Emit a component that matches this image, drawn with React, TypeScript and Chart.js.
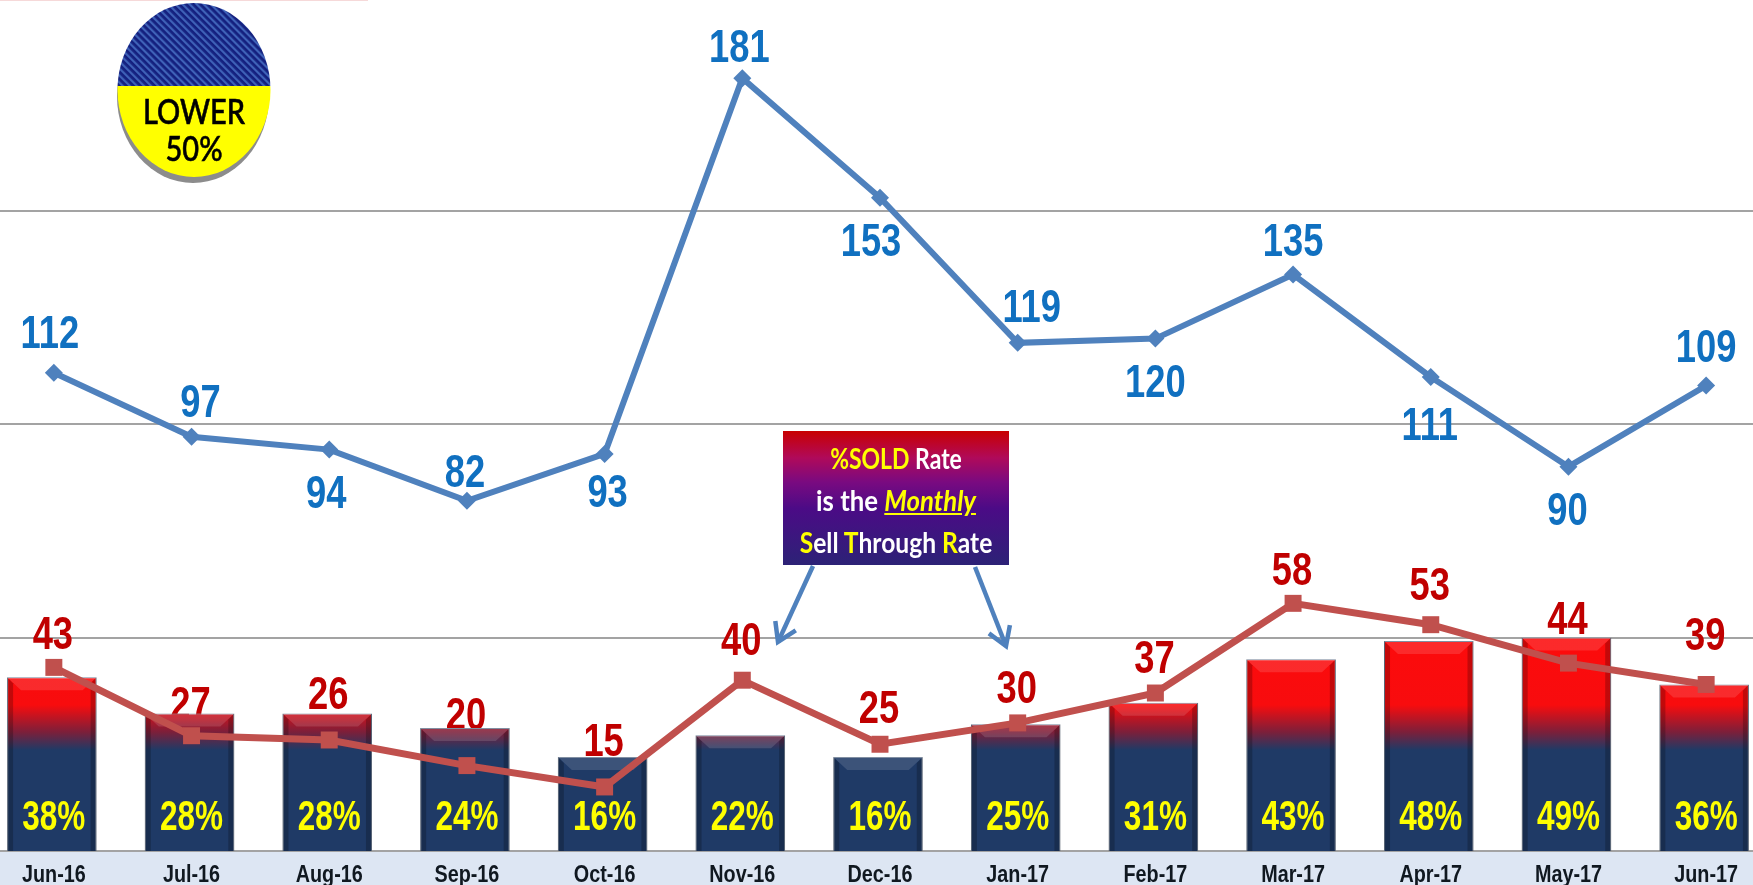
import React, { useEffect, useRef } from "react";
import { Chart, registerables } from "chart.js";

Chart.register(...registerables);

const months = ["Jun-16","Jul-16","Aug-16","Sep-16","Oct-16","Nov-16","Dec-16","Jan-17","Feb-17","Mar-17","Apr-17","May-17","Jun-17"];
const blueSeries = [112,97,94,82,93,181,153,119,120,135,111,90,109];
const redSeries = [43,27,26,20,15,40,25,30,37,58,53,44,39];
const soldRate = [38,28,28,24,16,22,16,25,31,43,48,49,36];

// label placement relative to each point, in pixels
const blueLabelDx = [-4,9,-3,-2,3,-3,-9,14,0,0,-1,-1,0];
const blueLabelDy = [-37,-32,46,-27,40,-29,46,-34,46,-31,50,46,-36];
const redLabelDy = [-31,-29,-44,-48,-44,-38,-34,-33,-33,-31,-37,-42,-47];

const SANS = '"Liberation Sans", Arial, sans-serif';

function drawText(
  c: CanvasRenderingContext2D,
  text: string,
  x: number,
  y: number,
  font: string,
  color: string,
  squeeze: number
) {
  c.save();
  c.translate(x, y);
  c.scale(squeeze, 1);
  c.font = font;
  c.fillStyle = color;
  c.textAlign = "center";
  c.textBaseline = "middle";
  c.fillText(text, 0, 0);
  c.restore();
}

const bandPlugin = {
  id: "band",
  beforeDraw(chart: any) {
    const { ctx, chartArea, width, height } = chart;
    ctx.save();
    ctx.fillStyle = "#ffffff";
    ctx.fillRect(0, 0, width, height);
    ctx.fillStyle = "#dde6f3";
    ctx.fillRect(0, chartArea.bottom, width, height - chartArea.bottom);
    ctx.restore();
  },
};

const BAR_SHIFT = -2;

const labelPlugin = {
  id: "labels",
  beforeDatasetsDraw(chart: any) {
    // red values sit behind the bars
    const { ctx } = chart;
    chart.getDatasetMeta(1).data.forEach((p: any, i: number) => {
      drawText(ctx, String(redSeries[i]), p.x - 1, p.y + redLabelDy[i], `bold 46px ${SANS}`, "#c00000", 0.79);
    });
  },
  beforeDatasetDraw(chart: any, args: any) {
    if (args.index === 2) {
      chart.ctx.save();
      chart.ctx.translate(BAR_SHIFT, 0);
    }
  },
  afterDatasetDraw(chart: any, args: any) {
    if (args.index !== 2) return;
    const { ctx } = chart;
    args.meta.data.forEach((b: any) => {
      const l = b.x - b.width / 2;
      const r = b.x + b.width / 2;
      const t = b.y;
      const bot = b.base;
      const s = 6;
      ctx.fillStyle = "rgba(255,255,255,0.13)";
      ctx.beginPath();
      ctx.moveTo(l, t);
      ctx.lineTo(r, t);
      ctx.lineTo(r - 14, t + 13);
      ctx.lineTo(l + 14, t + 13);
      ctx.closePath();
      ctx.fill();
      ctx.fillStyle = "rgba(0,0,0,0.22)";
      ctx.beginPath();
      ctx.moveTo(l, t);
      ctx.lineTo(l + s, t + 6);
      ctx.lineTo(l + s, bot);
      ctx.lineTo(l, bot);
      ctx.closePath();
      ctx.fill();
      ctx.beginPath();
      ctx.moveTo(r, t);
      ctx.lineTo(r - s, t + 6);
      ctx.lineTo(r - s, bot);
      ctx.lineTo(r, bot);
      ctx.closePath();
      ctx.fill();
    });
    ctx.restore();
  },
  afterDatasetsDraw(chart: any) {
    const { ctx, chartArea } = chart;
    const blue = chart.getDatasetMeta(0).data;
    blue.forEach((p: any, i: number) => {
      drawText(ctx, String(blueSeries[i]), p.x + blueLabelDx[i], p.y + blueLabelDy[i], `bold 46px ${SANS}`, "#1070c0", 0.79);
    });
    soldRate.forEach((v, i) => {
      drawText(ctx, `${v}%`, blue[i].x, chartArea.bottom - 33, `bold 42px ${SANS}`, "#ffff00", 0.75);
    });
  },
  afterDraw(chart: any) {
    const { ctx, chartArea, height } = chart;
    const x = chart.scales.x;
    x.ticks.forEach((_: any, i: number) => {
      const label = x.getLabelForValue(i);
      drawText(ctx, label, x.getPixelForTick(i), (chartArea.bottom + height) / 2 + 8, `bold 23px ${SANS}`, "#101820", 0.86);
    });
  },
};

export default function App() {
  const ref = useRef<HTMLCanvasElement>(null);
  useEffect(() => {
    const canvas = ref.current!;
    const c = canvas.getContext("2d")!;
    const grad = c.createLinearGradient(0, 603, 0, 753);
    grad.addColorStop(0, "#ff0a0a");
    grad.addColorStop(0.7, "#f80c0e");
    grad.addColorStop(0.88, "#7c1f3a");
    grad.addColorStop(1, "#1f3a66");
    const chart = new Chart(canvas, {
      type: "bar",
      data: {
        labels: months,
        datasets: [
          {
            type: "line",
            data: blueSeries,
            yAxisID: "y",
            order: 1,
            borderColor: "#4f81bd",
            backgroundColor: "#4f81bd",
            borderWidth: 6,
            pointStyle: "rectRot",
            pointRadius: 9,
            pointBorderWidth: 0,
            tension: 0,
          },
          {
            type: "line",
            data: redSeries,
            yAxisID: "y",
            order: 0,
            borderColor: "#c0504d",
            backgroundColor: "#c0504d",
            borderWidth: 7,
            pointStyle: "rect",
            pointRadius: 12,
            pointBorderWidth: 0,
            tension: 0,
          },
          {
            type: "bar",
            data: soldRate,
            yAxisID: "y1",
            order: 2,
            base: -10,
            backgroundColor: grad,
            borderColor: "#6f7f95",
            borderWidth: 1,
            barPercentage: 0.65,
            categoryPercentage: 1,
          },
        ] as any,
      },
      options: {
        responsive: false,
        animation: false,
        layout: { padding: 0, autoPadding: false },
        plugins: { legend: { display: false }, tooltip: { enabled: false } },
        scales: {
          x: {
            grid: { display: false },
            border: { display: false },
            afterFit: (s: any) => {
              s.height = 34;
            },
            ticks: { display: false, autoSkip: false },
          },
          y: {
            min: 0,
            max: 200,
            border: { display: false },
            grid: { color: "#a3a3a3", lineWidth: 2, drawTicks: false },
            ticks: { display: false, stepSize: 50 },
            afterFit: (s: any) => {
              s.width = 0;
            },
          },
          y1: {
            display: false,
            min: -10,
            max: 226,
          },
        },
      } as any,
      plugins: [bandPlugin, labelPlugin],
    });
    return () => chart.destroy();
  }, []);

  const noteLine = (squeeze: number): React.CSSProperties => ({
    height: 42,
    lineHeight: "42px",
    whiteSpace: "nowrap",
    transform: `scaleX(${squeeze})`,
  });
  const gold: React.CSSProperties = { color: "#ffff00" };
  return (
    <div style={{ position: "fixed", left: 0, top: 0, width: 1753, height: 885, overflow: "hidden", background: "#fff" }}>
      <canvas ref={ref} width={1790} height={888} style={{ position: "absolute", left: -15, top: -3, display: "block" }} />
      <div style={{ position: "absolute", left: 0, top: 0, width: 368, height: 1, background: "#f6d9d9" }} />

      <svg width={1753} height={885} style={{ position: "absolute", left: 0, top: 0 }}>
        <defs>
          <pattern id="stripes" width="5" height="5" patternUnits="userSpaceOnUse" patternTransform="rotate(-45)">
            <rect width="5" height="5" fill="#14207f" />
            <rect width="2.2" height="5" fill="#3f62b8" />
          </pattern>
          <clipPath id="disc">
            <ellipse cx="194" cy="90" rx="76.5" ry="87" />
          </clipPath>
          <marker id="head" markerWidth="7" markerHeight="7" refX="6" refY="3.5" orient="auto" markerUnits="strokeWidth">
            <path d="M2,1 L6,3.5 L2,6" fill="none" stroke="#4f81bd" strokeWidth="1" />
          </marker>
        </defs>
        <ellipse cx="193" cy="96" rx="76" ry="87" fill="#8c8c8c" />
        <g clipPath="url(#disc)">
          <rect x="117" y="0" width="154" height="86" fill="url(#stripes)" />
          <rect x="117" y="86" width="154" height="95" fill="#ffff00" />
        </g>
        <text x="194" y="124" textAnchor="middle" fontFamily="Lato" fontWeight="500" fontSize="34" fill="#000" stroke="#000" strokeWidth="0.6" textLength="102" lengthAdjust="spacingAndGlyphs">LOWER</text>
        <text x="194" y="161" textAnchor="middle" fontFamily="Lato" fontWeight="500" fontSize="35" fill="#000" stroke="#000" strokeWidth="0.6" textLength="57" lengthAdjust="spacingAndGlyphs">50%</text>
        <line x1="813" y1="566" x2="778" y2="642" stroke="#4f81bd" strokeWidth="4.5" markerEnd="url(#head)" />
        <line x1="975" y1="567" x2="1006" y2="646" stroke="#4f81bd" strokeWidth="4.5" markerEnd="url(#head)" />
      </svg>

      <div
        style={{
          position: "absolute",
          left: 783,
          top: 431,
          width: 226,
          height: 134,
          paddingTop: 6,
          boxSizing: "border-box",
          background: "linear-gradient(#c80000 0%, #b00a5a 20%, #7a0a80 38%, #4b0b86 58%, #2c2276 100%)",
          color: "#fff",
          fontFamily: "Lato",
          fontWeight: 700,
          fontSize: 28,
          textAlign: "center",
        }}
      >
        <div style={noteLine(0.82)}>
          <span style={gold}>%SOLD</span> Rate
        </div>
        <div style={noteLine(0.92)}>
          is the <span style={{ ...gold, fontStyle: "italic", textDecoration: "underline" }}>Monthly</span>
        </div>
        <div style={noteLine(0.88)}>
          <span style={gold}>S</span>ell <span style={gold}>T</span>hrough <span style={gold}>R</span>ate
        </div>
      </div>
    </div>
  );
}
